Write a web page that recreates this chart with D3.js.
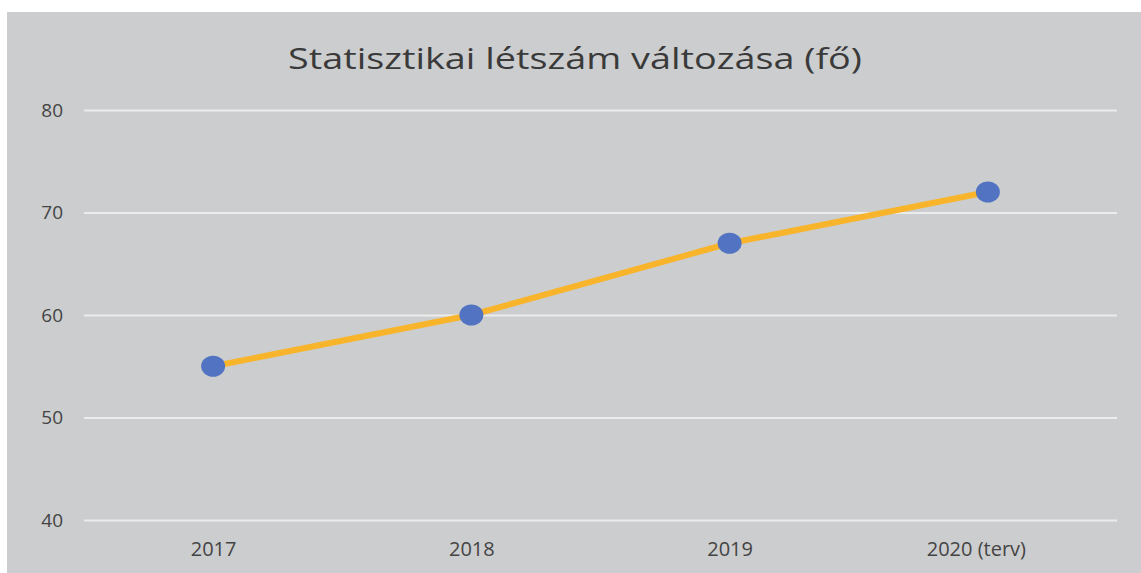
<!DOCTYPE html>
<html>
<head>
<meta charset="utf-8">
<script src="https://cdn.jsdelivr.net/npm/d3@7"></script>
<style>
  body { margin: 0; background: #fff; }
  text { font-family: "Open Sans", "DejaVu Sans", sans-serif; }
</style>
</head>
<body>
<div id="grafico"></div>
<script>
const years  = ["2017", "2018", "2019", "2020 (terv)"];
const values = [55, 60, 67, 72];
const yTicks = [40, 50, 60, 70, 80];

const W = 1141, H = 573;
const margin = { top: 110, left: 84, bottom: 53, right: 24 };
const width  = W - margin.left - margin.right;
const height = H - margin.top - margin.bottom;

const root = d3.select("#grafico")
               .append("svg")
               .attr("width", W)
               .attr("height", H);

// scanned gray panel
root.append("rect")
    .attr("x", 7).attr("y", 12)
    .attr("width", W - 7).attr("height", H - 12)
    .attr("fill", "#cccdce");

root.append("text")
    .attr("x", 575).attr("y", 69)
    .attr("text-anchor", "middle")
    .attr("font-size", 30)
    .attr("textLength", 574)
    .attr("lengthAdjust", "spacingAndGlyphs")
    .attr("fill", "#3a3a3a")
    .text("Statisztikai létszám változása (fő)");

const svg = root.append("g")
                .attr("transform", `translate(${margin.left}, ${margin.top})`);

const xScale = d3.scalePoint()
                 .domain(years)
                 .range([0, width])
                 .padding(0.5);

const yScale = d3.scaleLinear()
                 .domain([40, 80])
                 .range([height, 0]);

// gridlines + y labels
const yAxis = svg.append("g")
                 .call(d3.axisLeft(yScale)
                         .tickValues(yTicks)
                         .tickSize(-width)
                         .tickPadding(21)
                         .tickFormat(d3.format("d")));
yAxis.select(".domain").remove();
yAxis.selectAll(".tick line")
     .attr("stroke", "#ececec")
     .attr("stroke-width", 2);
yAxis.selectAll(".tick text")
     .attr("font-size", 19)
     .attr("fill", "#444");

const xAxis = svg.append("g")
                 .attr("transform", `translate(0, ${height})`)
                 .call(d3.axisBottom(xScale).tickSize(0).tickPadding(22));
xAxis.select(".domain").remove();
xAxis.selectAll(".tick text")
     .attr("font-size", 20)
     .attr("fill", "#444")
     .attr("dx", (d, i) => i === years.length - 1 ? -12 : 0);

const data = years.map((y, i) => ({ year: y, value: values[i] }));

svg.append("path")
   .datum(data)
   .attr("fill", "none")
   .attr("stroke", "#f8b52c")
   .attr("stroke-width", 6)
   .attr("d", d3.line()
                .x(d => xScale(d.year))
                .y(d => yScale(d.value)));

svg.selectAll("circle")
   .data(data)
   .join("ellipse")
   .attr("cx", d => xScale(d.year))
   .attr("cy", d => yScale(d.value))
   .attr("rx", 12)
   .attr("ry", 10.5)
   .attr("fill", "#5173c2");
</script>
</body>
</html>
